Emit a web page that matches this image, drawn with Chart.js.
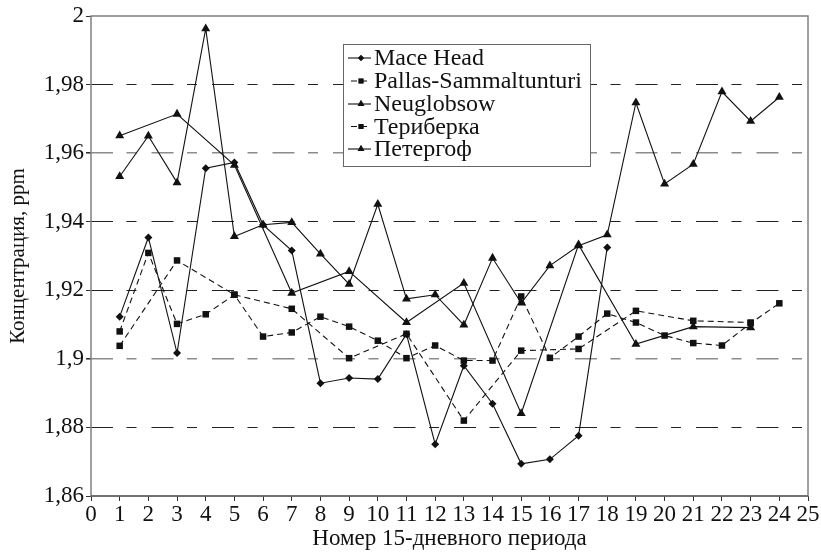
<!DOCTYPE html>
<html lang="ru">
<head>
<meta charset="utf-8">
<title>Концентрация CH4 по 15-дневным периодам</title>
<script src="https://cdn.jsdelivr.net/npm/chart.js@4.4.1/dist/chart.umd.min.js"></script>
<style>
  html, body { margin: 0; padding: 0; background: #fff; }
  #wrap { width: 821px; height: 553px; }
</style>
</head>
<body>
<div id="wrap"><canvas id="ch4Chart" width="821" height="553"></canvas></div>
<script>
// Номера периодов и подписи осей
const periods = [1, 2, 3, 4, 5, 6, 7, 8, 9, 10, 11, 12, 13, 14, 15, 16, 17, 18, 19, 20, 21, 22, 23, 24];
const xTicks = [0, 1, 2, 3, 4, 5, 6, 7, 8, 9, 10, 11, 12, 13, 14, 15, 16, 17, 18, 19, 20, 21, 22, 23, 24, 25];
const yTicks = [1.86, 1.88, 1.90, 1.92, 1.94, 1.96, 1.98, 2.00];

// Средние концентрации, ppm (null - нет данных за период)
const maceHead = [1.9123, 1.9354, 1.9017, 1.9556, 1.9573, 1.9391, 1.9316, 1.8929, 1.8944, 1.8941, 1.9072, 1.8751,
                  1.8980, 1.8869, 1.8694, 1.8707, 1.8776, 1.9325, null, null, null, null, null, null];
const pallas = [1.9080, 1.9309, 1.9102, 1.9130, 1.9187, 1.9065, 1.9077, 1.9123, 1.9094, 1.9053, 1.9002, 1.9039,
                1.8995, 1.8995, 1.9182, 1.9003, 1.9065, 1.9132, 1.9106, 1.9068, 1.9046, 1.9039, 1.9104, 1.9162];
const neuglobsow = [1.9532, 1.9650, 1.9514, 1.9963, 1.9357, 1.9391, 1.9398, 1.9306, 1.9218, 1.9451, 1.9175, 1.9187,
                    1.9099, 1.9294, 1.9163, 1.9272, 1.9330, 1.9362, 1.9747, 1.9510, 1.9568, 1.9779, 1.9693, 1.9763];
const teriberka = [1.9038, null, 1.9287, null, 1.9187, null, 1.9146, null, 1.9002, null, 1.9073, null,
                   1.8820, null, 1.9024, null, 1.9029, null, 1.9140, null, 1.9111, null, 1.9106, null];
const petergof = [1.9651, null, 1.9714, null, 1.9565, null, 1.9192, null, 1.9255, null, 1.9106, null,
                  1.9221, null, 1.8841, null, 1.9333, null, 1.9043, null, 1.9094, null, 1.9091, null];

const SERIF = "'Liberation Serif', 'Times New Roman', serif";
const INK = "#111";

function points(values) {
    return periods.map((p, i) => ({ x: p, y: values[i] }));
}

function series(label, values, style, radius, dashed) {
    return {
        label: label,
        data: points(values),
        borderColor: INK,
        backgroundColor: INK,
        borderWidth: 1.1,
        borderDash: dashed ? [6, 4] : [],
        pointStyle: style,
        pointRadius: radius,
        pointBorderWidth: 0,
        pointBackgroundColor: INK,
        spanGaps: true,
        tension: 0
    };
}

function formatPpm(v) {
    return String(Number(v.toFixed(2))).replace(".", ",");
}

// Рамка области построения
const framePlugin = {
    id: "frame",
    afterDatasetsDraw(chart) {
        const { ctx, chartArea: a } = chart;
        ctx.save();
        ctx.lineWidth = 1.5;
        ctx.strokeStyle = "#808080";
        ctx.strokeRect(a.left, a.top, a.right - a.left, a.bottom - a.top);
        ctx.beginPath();
        ctx.strokeStyle = "#444";
        ctx.lineWidth = 1.2;
        ctx.moveTo(a.left, a.bottom);
        ctx.lineTo(a.right, a.bottom);
        ctx.stroke();
        ctx.restore();
    }
};

// Легенда внутри графика
const boxLegend = {
    id: "boxLegend",
    afterDraw(chart) {
        const ctx = chart.ctx;
        const box = { x: 343.5, y: 44.5, w: 247, h: 122 };
        const rows = [58, 81, 104, 126.5, 149];
        ctx.save();
        ctx.fillStyle = "#fff";
        ctx.fillRect(box.x, box.y, box.w, box.h);
        ctx.strokeStyle = "#666";
        ctx.lineWidth = 1;
        ctx.strokeRect(box.x, box.y, box.w, box.h);
        chart.data.datasets.forEach((ds, i) => {
            const y = rows[i];
            ctx.strokeStyle = INK;
            ctx.lineWidth = 1.1;
            ctx.setLineDash(ds.borderDash.length ? [6, 4] : []);
            ctx.beginPath();
            ctx.moveTo(ds.borderDash.length ? 351 : 348, y);
            ctx.lineTo(371, y);
            ctx.stroke();
            ctx.setLineDash([]);
            ctx.fillStyle = INK;
            Chart.helpers.drawPoint(ctx, { pointStyle: ds.pointStyle, radius: ds.pointRadius * 0.75, borderWidth: 0, rotation: 0 }, 361, y);
            ctx.fill();
            ctx.font = "24px " + SERIF;
            ctx.textBaseline = "middle";
            ctx.fillText(ds.label, 374, y + 1);
        });
        ctx.restore();
    }
};

document.addEventListener("DOMContentLoaded", function () {
    const ctx = document.getElementById("ch4Chart").getContext("2d");

    new Chart(ctx, {
        type: "line",
        data: {
            datasets: [
                series("Mace Head", maceHead, "rectRot", 4, false),
                series("Pallas-Sammaltunturi", pallas, "rect", 4.6, true),
                series("Neuglobsow", neuglobsow, "triangle", 5.2, false),
                series("Териберка", teriberka, "rect", 4.6, true),
                series("Петергоф", petergof, "triangle", 5.2, false)
            ]
        },
        options: {
            responsive: false,
            animation: false,
            devicePixelRatio: 1,
            layout: { padding: { top: 16, right: 13, left: 0, bottom: 0 } },
            plugins: {
                legend: { display: false },
                tooltip: { enabled: false }
            },
            scales: {
                x: {
                    type: "linear",
                    min: 0,
                    max: 25,
                    afterBuildTicks: scale => { scale.ticks = xTicks.map(v => ({ value: v })); },
                    afterFit: scale => { scale.height = 57; },
                    grid: { drawOnChartArea: false, drawTicks: true, tickLength: 5, tickColor: "#333" },
                    border: { display: false },
                    ticks: {
                        color: INK,
                        padding: 0,
                        maxRotation: 0,
                        autoSkip: false,
                        font: { family: SERIF, size: 23 }
                    },
                    title: {
                        display: true,
                        text: "Номер 15-дневного периода",
                        color: INK,
                        padding: { top: 0, bottom: 0 },
                        font: { family: SERIF, size: 23 }
                    }
                },
                y: {
                    min: 1.86,
                    max: 2.0,
                    afterBuildTicks: scale => { scale.ticks = yTicks.map(v => ({ value: v })); },
                    afterFit: scale => { scale.width = 91; },
                    grid: {
                        color: c => {
                            const v = c.tick ? Number(c.tick.value.toFixed(2)) : 0;
                            if (v === 1.86 || v === 2) return "rgba(0,0,0,0)";
                            return (v === 1.96 || v === 1.9) ? "#8c8c8c" : "#222";
                        },
                        lineWidth: c => {
                            const v = c.tick ? Number(c.tick.value.toFixed(2)) : 0;
                            return (v === 1.96 || v === 1.9) ? 1.6 : 1;
                        },
                        tickLength: 5,
                        tickColor: "#333",
                        tickBorderDash: []
                    },
                    border: { display: false, dash: [22, 13.5, 10, 15] },
                    ticks: {
                        color: INK,
                        padding: 2,
                        font: { family: SERIF, size: 23 },
                        callback: v => formatPpm(v)
                    },
                    title: {
                        display: true,
                        text: "Концентрация, ppm",
                        color: INK,
                        padding: { top: 6, bottom: 0 },
                        font: { family: SERIF, size: 21 }
                    }
                }
            }
        },
        plugins: [framePlugin, boxLegend]
    });
});
</script>
</body>
</html>
